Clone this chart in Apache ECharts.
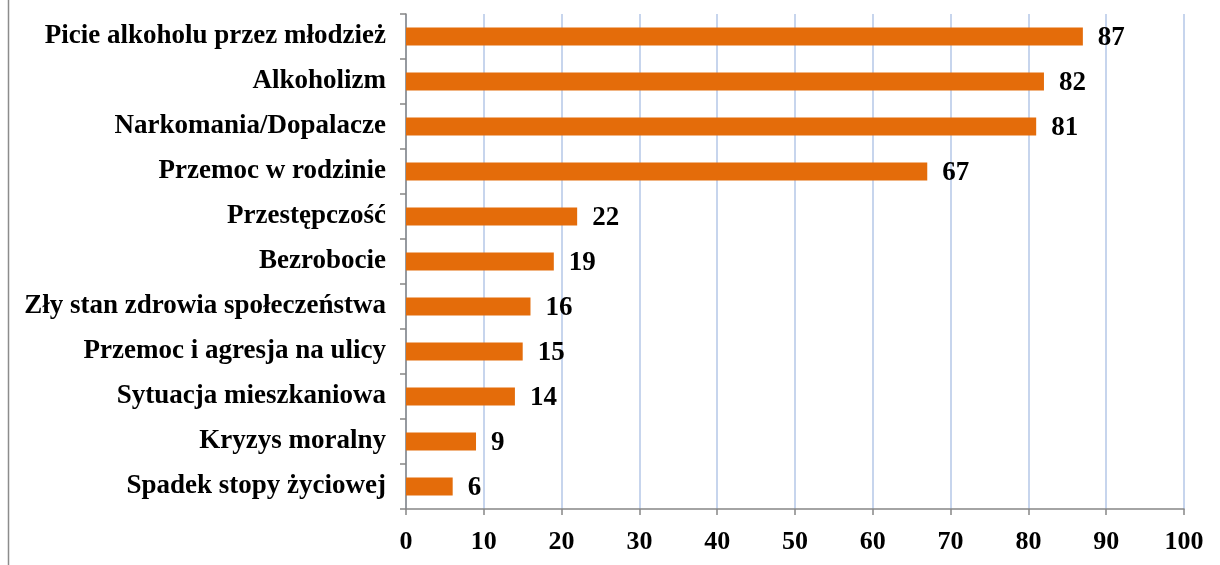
<!DOCTYPE html>
<html>
<head>
<meta charset="utf-8">
<script src="https://cdn.jsdelivr.net/npm/echarts@6/dist/echarts.min.js"></script>
<style>
  html, body { margin: 0; padding: 0; background: #fff; }
  #chart { width: 1220px; height: 565px; }
</style>
</head>
<body>
<div id="chart"></div>
<script>
var categories = [
    'Picie alkoholu przez młodzież',
    'Alkoholizm',
    'Narkomania/Dopalacze',
    'Przemoc w rodzinie',
    'Przestępczość',
    'Bezrobocie',
    'Zły stan zdrowia społeczeństwa',
    'Przemoc i agresja na ulicy',
    'Sytuacja mieszkaniowa',
    'Kryzys moralny',
    'Spadek stopy życiowej'
];
var values = [87, 82, 81, 67, 22, 19, 16, 15, 14, 9, 6];

function createBarChart(selectorId) {
    var myChart = echarts.init(document.getElementById(selectorId));
    var font = '"Liberation Serif", "Times New Roman", serif';
    var option = {
        backgroundColor: '#ffffff',
        animation: false,
        graphic: [{
            type: 'line',
            shape: { x1: 8.5, y1: 0, x2: 8.5, y2: 565 },
            style: { stroke: '#8c8c8c', lineWidth: 1.5 }
        }],
        grid: {
            left: 406,
            right: 36,
            top: 14,
            bottom: 56,
            containLabel: false
        },
        xAxis: {
            type: 'value',
            min: 0,
            max: 100,
            interval: 10,
            axisLine: { show: true, lineStyle: { color: '#868686', width: 1.5 } },
            axisTick: { show: true, length: 6, lineStyle: { color: '#868686', width: 1.5 } },
            axisLabel: {
                margin: 20,
                color: '#000',
                fontFamily: font,
                fontWeight: 'bold',
                fontSize: 26
            },
            splitLine: { show: true, lineStyle: { color: '#b4c7e7', width: 1.5 } }
        },
        yAxis: {
            type: 'category',
            inverse: true,
            data: categories,
            axisLine: { show: true, lineStyle: { color: '#868686', width: 1.5 } },
            axisTick: { show: true, length: 6, lineStyle: { color: '#868686', width: 1.5 } },
            axisLabel: {
                margin: 20,
                color: '#000',
                fontFamily: font,
                fontWeight: 'bold',
                fontSize: 27
            }
        },
        series: [{
            type: 'bar',
            data: values,
            barWidth: 18,
            itemStyle: { color: '#e46c0a' },
            label: {
                show: true,
                position: 'right',
                distance: 15,
                offset: [0, 2],
                color: '#000',
                fontFamily: font,
                fontWeight: 'bold',
                fontSize: 27
            }
        }]
    };
    myChart.setOption(option);
    window.addEventListener('resize', function () {
        myChart.resize();
    });
}
createBarChart('chart');
</script>
</body>
</html>
